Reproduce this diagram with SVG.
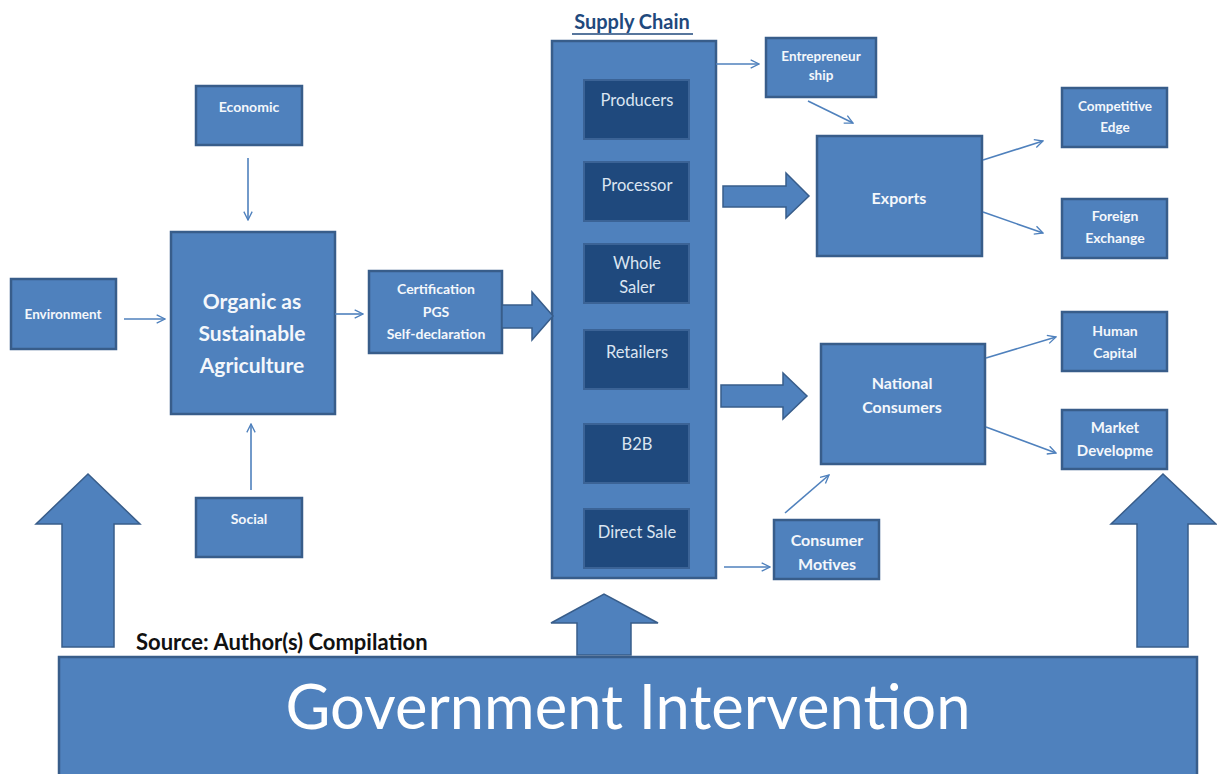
<svg xmlns="http://www.w3.org/2000/svg" width="1217" height="774" viewBox="0 0 1217 774">
  <defs>
    <style>
      .box { fill: #4f81bd; stroke: #385d8a; stroke-width: 2.5; }
      .inner { fill: #1f497d; stroke: #3b6396; stroke-width: 2; }
      .big { fill: #4f81bd; stroke: #385d8a; stroke-width: 1.5; }
      .lbl { font-family: Lato, "Liberation Sans", sans-serif; font-weight: bold; fill: #f4f7fb; text-anchor: middle; }
      .sub { font-family: Lato, "Liberation Sans", sans-serif; fill: #dbe5f1; font-size: 16.5px; text-anchor: middle; }
      .thin { fill: none; stroke: #4f81bd; stroke-width: 1.6; marker-end: url(#open); }
    </style>
    <marker id="open" viewBox="0 0 12 12" refX="11" refY="6" markerWidth="10" markerHeight="10" markerUnits="userSpaceOnUse" orient="auto">
      <path d="M1,1 L11,6 L1,11" fill="none" stroke="#4f81bd" stroke-width="1.6"/>
    </marker>
  </defs>
  <rect width="1217" height="774" fill="#ffffff"/>

  <!-- left column: pillars feeding the organic agriculture node -->
  <g id="economic">
    <rect class="box" x="196" y="86" width="106" height="59"/>
    <text class="lbl" x="249" y="112" font-size="14">Economic</text>
  </g>
  <g id="environment">
    <rect class="box" x="11" y="279" width="105" height="70"/>
    <text class="lbl" x="63" y="319" font-size="13.5">Environment</text>
  </g>
  <g id="social">
    <rect class="box" x="196" y="498" width="106" height="59"/>
    <text class="lbl" x="249" y="524" font-size="14">Social</text>
  </g>
  <g id="organic">
    <rect class="box" x="171" y="232" width="164" height="182"/>
    <text class="lbl" x="252" y="309" font-size="21">Organic as</text>
    <text class="lbl" x="252" y="341" font-size="21">Sustainable</text>
    <text class="lbl" x="252" y="373" font-size="21">Agriculture</text>
  </g>
  <g id="certification">
    <rect class="box" x="369" y="271" width="133" height="82"/>
    <text class="lbl" x="436" y="294" font-size="14">Certification</text>
    <text class="lbl" x="436" y="317" font-size="14">PGS</text>
    <text class="lbl" x="436" y="339" font-size="14">Self-declaration</text>
  </g>

  <!-- supply chain column -->
  <g id="supply-chain">
    <text x="632" y="29" font-family="Lato, 'Liberation Sans', sans-serif" font-weight="bold" font-size="20" fill="#1f497d" text-anchor="middle">Supply Chain</text>
    <line x1="572" y1="34" x2="693" y2="34" stroke="#1f497d" stroke-width="1.5"/>
    <rect class="box" x="552" y="41" width="164" height="537"/>
  </g>
  <g id="producers">
    <rect class="inner" x="584" y="80" width="105" height="59"/>
    <text class="sub" x="637" y="106">Producers</text>
  </g>
  <g id="processor">
    <rect class="inner" x="584" y="162" width="105" height="59"/>
    <text class="sub" x="637" y="191">Processor</text>
  </g>
  <g id="wholesaler">
    <rect class="inner" x="584" y="244" width="105" height="59"/>
    <text class="sub" x="637" y="269">Whole</text>
    <text class="sub" x="637" y="293">Saler</text>
  </g>
  <g id="retailers">
    <rect class="inner" x="584" y="330" width="105" height="59"/>
    <text class="sub" x="637" y="358">Retailers</text>
  </g>
  <g id="b2b">
    <rect class="inner" x="584" y="424" width="105" height="59"/>
    <text class="sub" x="637" y="450">B2B</text>
  </g>
  <g id="direct-sale">
    <rect class="inner" x="584" y="509" width="105" height="59"/>
    <text class="sub" x="637" y="538">Direct Sale</text>
  </g>

  <!-- outcomes -->
  <g id="entrepreneurship">
    <rect class="box" x="766" y="38" width="110" height="59"/>
    <text class="lbl" x="821" y="61" font-size="13.5">Entrepreneur</text>
    <text class="lbl" x="821" y="80" font-size="13.5">ship</text>
  </g>
  <g id="exports">
    <rect class="box" x="817" y="136" width="165" height="120"/>
    <text class="lbl" x="899" y="204" font-size="16">Exports</text>
  </g>
  <g id="competitive-edge">
    <rect class="box" x="1062" y="88" width="105" height="59"/>
    <text class="lbl" x="1115" y="111" font-size="13.5">Competitive</text>
    <text class="lbl" x="1115" y="132" font-size="13.5">Edge</text>
  </g>
  <g id="foreign-exchange">
    <rect class="box" x="1062" y="199" width="105" height="59"/>
    <text class="lbl" x="1115" y="221" font-size="14">Foreign</text>
    <text class="lbl" x="1115" y="243" font-size="14">Exchange</text>
  </g>
  <g id="national-consumers">
    <rect class="box" x="821" y="344" width="164" height="120"/>
    <text class="lbl" x="902" y="389" font-size="16">National</text>
    <text class="lbl" x="902" y="413" font-size="16">Consumers</text>
  </g>
  <g id="human-capital">
    <rect class="box" x="1062" y="312" width="105" height="59"/>
    <text class="lbl" x="1115" y="336" font-size="14">Human</text>
    <text class="lbl" x="1115" y="358" font-size="14">Capital</text>
  </g>
  <g id="market-development">
    <rect class="box" x="1062" y="410" width="105" height="59"/>
    <text class="lbl" x="1115" y="433" font-size="15">Market</text>
    <text class="lbl" x="1115" y="456" font-size="15">Developme</text>
  </g>
  <g id="consumer-motives">
    <rect class="box" x="774" y="520" width="105" height="59"/>
    <text class="lbl" x="827" y="546" font-size="16">Consumer</text>
    <text class="lbl" x="827" y="570" font-size="16">Motives</text>
  </g>

  <!-- government base -->
  <g id="government">
    <rect class="box" x="59" y="657" width="1138" height="125"/>
    <text x="628" y="729" font-family="Lato, 'Liberation Sans', sans-serif" font-size="61.5" fill="#ffffff" text-anchor="middle">Government Intervention</text>
  </g>
  <text id="source" x="136" y="650" font-family="Lato, 'Liberation Sans', sans-serif" font-weight="bold" font-size="22" fill="#111111">Source: Author(s) Compilation</text>

  <g id="connectors">
    <!-- thin arrows -->
    <line class="thin" x1="248" y1="158" x2="248" y2="220"/>
    <line class="thin" x1="251" y1="490" x2="251" y2="424"/>
    <line class="thin" x1="124" y1="319" x2="165" y2="319"/>
    <line class="thin" x1="335" y1="314" x2="363" y2="314"/>
    <line class="thin" x1="716" y1="64" x2="759" y2="64"/>
    <line class="thin" x1="808" y1="101" x2="853" y2="123"/>
    <line class="thin" x1="983" y1="160" x2="1043" y2="141"/>
    <line class="thin" x1="983" y1="212" x2="1043" y2="233"/>
    <line class="thin" x1="986" y1="358" x2="1056" y2="337"/>
    <line class="thin" x1="986" y1="427" x2="1056" y2="453"/>
    <line class="thin" x1="785" y1="513" x2="829" y2="475"/>
    <line class="thin" x1="724" y1="567" x2="770" y2="567"/>

    <!-- block arrows to the right -->
    <path class="big" d="M502,305 L532,305 L532,292 L553,316 L532,340 L532,328 L502,328 Z"/>
    <path class="big" d="M723,186 L786,186 L786,173 L809,196 L786,218 L786,207 L723,207 Z"/>
    <path class="big" d="M721,385 L783,385 L783,373 L807,396 L783,419 L783,407 L721,407 Z"/>

    <!-- block arrows rising from the government base -->
    <path class="big" d="M62,647 L62,524 L36,524 L88,474 L140,524 L114,524 L114,647 Z"/>
    <path class="big" d="M577,655 L577,623 L551,623 L604,594 L658,623 L631,623 L631,655 Z"/>
    <path class="big" d="M1137,647 L1137,524 L1111,524 L1163,474 L1216,524 L1188,524 L1188,647 Z"/>
  </g>
</svg>
